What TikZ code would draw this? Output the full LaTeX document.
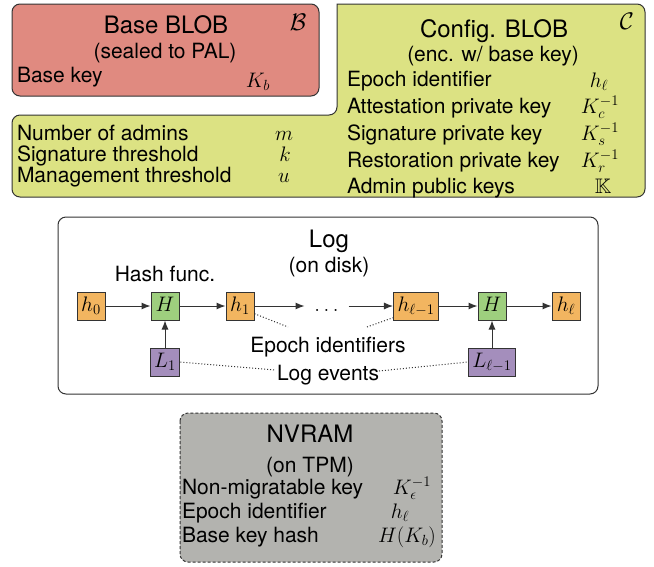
\RequirePackage{fix-cm}
\documentclass[tikz,border=0pt]{standalone}
\usepackage{amssymb}
\usepackage{fontspec}
\setmainfont{TeX Gyre Heros}
\usetikzlibrary{arrows.meta}

\definecolor{linec}{HTML}{333333}
\definecolor{basecol}{HTML}{E08A80}
\definecolor{cfgcol}{HTML}{DCE283}
\definecolor{hcol}{HTML}{F2B560}
\definecolor{fcol}{HTML}{9ECF7E}
\definecolor{lcol}{HTML}{A48EBC}
\definecolor{nvcol}{HTML}{B3B3AF}

\newcommand\bodysize{\fontsize{21}{25}\selectfont}
\newcommand\headsize{\fontsize{24}{28}\selectfont}

\tikzset{
  panel/.style={draw=linec, line width=1pt, rounded corners=8pt},
  txt/.style={font=\bodysize, inner sep=0pt, outer sep=0pt},
  row/.style={txt, anchor=base west},
  mth/.style={txt, anchor=base},
  head/.style={font=\headsize, inner sep=0pt, anchor=base},
  blk/.style={draw=linec, line width=1pt, font=\bodysize, minimum width=28pt,
    minimum height=28pt, inner xsep=4pt, inner ysep=0pt, text height=14pt, text depth=4pt},
  hbox/.style={blk, fill=hcol},
  fbox/.style={blk, fill=fcol},
  lbox/.style={blk, fill=lcol},
  arr/.style={draw=linec, line width=1pt, -{Latex[length=9pt,width=7pt]}},
  dotline/.style={draw=linec, line width=1pt, dash pattern=on 1pt off 2pt},
}

\begin{document}
\begin{tikzpicture}[x=1pt,y=-1pt]
\useasboundingbox (0,0) rectangle (654,566);

% ---------- Base BLOB ----------
\draw[panel, fill=basecol] (12,4) rectangle (319,96);
\node[head] (bt) at (166,33) {Base BLOB};
\node[mth, font=\headsize] (bsym) at (298,30) {$\mathcal{B}$};
\node[mth] (bsub) at (165,58) {(sealed to PAL)};
\node[row] (bkey) at (17,82) {Base key};
\node[mth] (bkeym) at (258,87) {$K_b$};

% ---------- Config. BLOB (L-shaped panel) ----------
\draw[draw=linec, line width=1pt, fill=cfgcol, rounded corners=8pt]
  (200,197) -- (12,197) -- (12,115) -- (337,115) [sharp corners] -- (337,4)
  [rounded corners=8pt] -- (645,4) -- (645,197) -- cycle;
\node[head] (ct) at (494,37) {Config. BLOB};
\node[mth, font=\headsize] (csym) at (627,29) {$\mathcal{C}$};
\node[mth] (csub) at (493,61) {(enc. w/ base key)};

\node[row] (c1) at (347,86)  {Epoch identifier};
\node[row] (c2) at (347,113) {Attestation private key};
\node[row] (c3) at (347,140) {Signature private key};
\node[row] (c4) at (347,167) {Restoration private key};
\node[row] (c5) at (347,193) {Admin public keys};
\node[mth] (c1m) at (599,87)  {$h_\ell$};
\node[mth] (c2m) at (600,113) {$K_c^{-1}$};
\node[mth] (c3m) at (600,140) {$K_s^{-1}$};
\node[mth] (c4m) at (600,167) {$K_r^{-1}$};
\node[mth] (c5m) at (603,193) {$\mathbb{K}$};

\node[row] (p1) at (17,140) {Number of admins};
\node[row] (p2) at (17,161) {Signature threshold};
\node[row] (p3) at (17,182) {Management threshold};
\node[mth] (p1m) at (284,140) {$m$};
\node[mth] (p2m) at (285,161) {$k$};
\node[mth] (p3m) at (284,182) {$u$};

% ---------- Log ----------
\draw[panel, fill=white] (58,217) rectangle (598,394);
\node[head] (lt) at (329,247) {Log};
\node[mth] (lsub) at (329,272) {(on disk)};
\node[mth] (hf) at (165,281) {Hash func.};

\node[hbox] (h0)  at (91,306)  {$h_0$};
\node[fbox] (H1)  at (165,306) {$H$};
\node[hbox] (h1)  at (240,306) {$h_1$};
\node[blk, draw=none, minimum width=43pt] (ell) at (326.5,306) {$\ldots$};
\node[hbox] (hl1) at (416,306) {$h_{\ell-1}$};
\node[fbox] (H2)  at (492,306) {$H$};
\node[hbox] (hl)  at (566,306) {$h_\ell$};
\node[lbox] (L1)  at (165,362) {$L_1$};
\node[lbox] (Ll1) at (492,362) {$L_{\ell-1}$};

\draw[arr] (h0) -- (H1);
\draw[arr] (H1) -- (h1);
\draw[arr] (h1) -- (ell);
\draw[arr] (ell) -- (hl1);
\draw[arr] (hl1) -- (H2);
\draw[arr] (H2) -- (hl);
\draw[arr] (L1) -- (H1);
\draw[arr] (Ll1) -- (H2);

\node[mth] (epoch) at (328,352) {Epoch identifiers};
\node[mth] (events) at (328,380) {Log events};
\coordinate (epL) at (288,327);
\coordinate (epR) at (367,327);
\coordinate (evL) at (276,370);
\coordinate (evR) at (379,371);
\draw[dotline] (h1.-28) -- (epL);
\draw[dotline] (epR) -- (hl1.207);
\draw[dotline] (L1.east) -- (evL);
\draw[dotline] (evR) -- (Ll1.west);

% ---------- NVRAM ----------
\draw[panel, fill=nvcol, dash pattern=on 3pt off 2pt] (180,413) rectangle (442,562);
\node[head] (nt) at (310,442) {NVRAM};
\node[mth] (nsub) at (310,472) {(on TPM)};
\node[row] (n1) at (182,494) {Non-migratable key};
\node[row] (n2) at (182,518) {Epoch identifier};
\node[row] (n3) at (182,542) {Base key hash};
\node[mth] (n1m) at (412,494) {$K_\epsilon^{-1}$};
\node[mth] (n2m) at (400,518) {$h_\ell$};
\node[mth] (n3m) at (407,542) {$H(K_b)$};
\end{tikzpicture}
\end{document}
